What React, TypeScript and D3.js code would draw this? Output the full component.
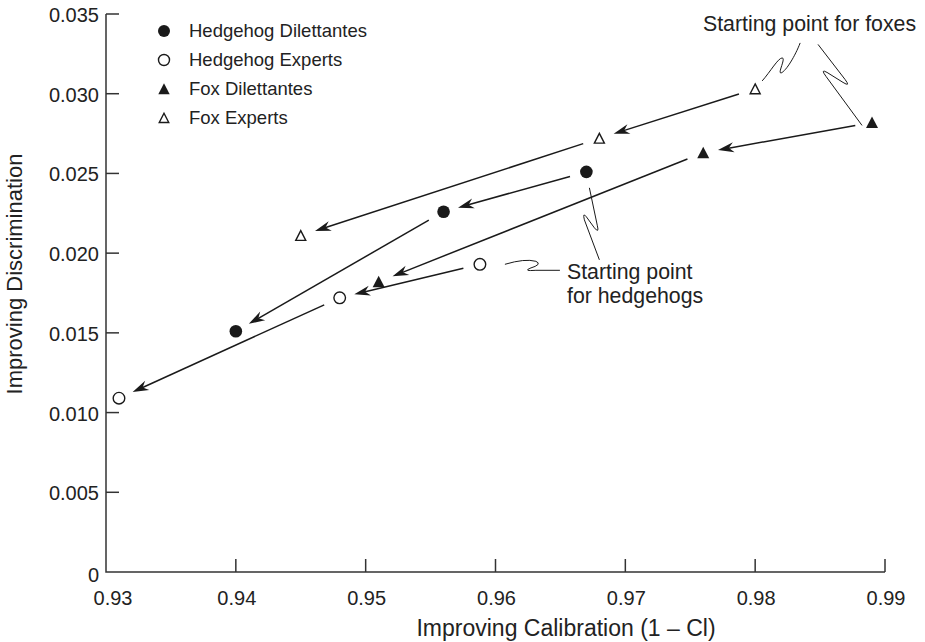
import React from 'react';
import * as d3 from 'd3';

type Pt = { x: number; y: number };

// each series runs from its starting point (first) to its last point
const hedgehogDilettantes: Pt[] = [
  { x: 0.967, y: 0.0251 },
  { x: 0.956, y: 0.0226 },
  { x: 0.94, y: 0.0151 },
];
const hedgehogExperts: Pt[] = [
  { x: 0.9588, y: 0.0193 },
  { x: 0.948, y: 0.0172 },
  { x: 0.931, y: 0.0109 },
];
const foxDilettantes: Pt[] = [
  { x: 0.989, y: 0.0282 },
  { x: 0.976, y: 0.0263 },
  { x: 0.951, y: 0.0182 },
];
const foxExperts: Pt[] = [
  { x: 0.98, y: 0.0303 },
  { x: 0.968, y: 0.0272 },
  { x: 0.945, y: 0.0211 },
];

const xTicks = [0.93, 0.94, 0.95, 0.96, 0.97, 0.98, 0.99];
const yTicks = [0, 0.005, 0.01, 0.015, 0.02, 0.025, 0.03, 0.035];
const legendLabels = ['Hedgehog Dilettantes', 'Hedgehog Experts', 'Fox Dilettantes', 'Fox Experts'];

const W = 925;
const H = 642;
const font = '"Liberation Sans", Arial, Helvetica, sans-serif';
const ink = '#1a1a1a';

type Kind = 'dot' | 'ring' | 'tri' | 'openTri';

const Marker = ({ kind, cx, cy, s = 1 }: { kind: Kind; cx: number; cy: number; s?: number }) => {
  if (kind === 'dot') return <circle cx={cx} cy={cy} r={6.3 * s} fill={ink} />;
  if (kind === 'ring')
    return <circle cx={cx} cy={cy} r={5.8 * s} fill="#fff" stroke={ink} strokeWidth={1.4} />;
  const h = 6 * s;
  const d = `M${cx},${cy - h}L${cx + h},${cy + h * 0.92}L${cx - h},${cy + h * 0.92}Z`;
  if (kind === 'tri') return <path d={d} fill={ink} />;
  const h2 = 5 * s;
  const d2 = `M${cx},${cy - h2}L${cx + h2},${cy + h2 * 0.95}L${cx - h2},${cy + h2 * 0.95}Z`;
  return <path d={d2} fill="#fff" stroke={ink} strokeWidth={1.4} strokeLinejoin="miter" />;
};

export default function App() {
  const x = d3.scaleLinear().domain([0.93, 0.99]).range([106, 885]);
  const y = d3.scaleLinear().domain([0, 0.035]).range([572, 14]);

  const series: { data: Pt[]; kind: Kind }[] = [
    { data: hedgehogDilettantes, kind: 'dot' },
    { data: hedgehogExperts, kind: 'ring' },
    { data: foxDilettantes, kind: 'tri' },
    { data: foxExperts, kind: 'openTri' },
  ];

  // arrows between consecutive points
  const arrows: { line: string; head: string }[] = [];
  series.forEach(({ data }) => {
    d3.pairs(data).forEach(([a, b]) => {
      const x0 = x(a.x), y0 = y(a.y), x1 = x(b.x), y1 = y(b.y);
      const len = Math.hypot(x1 - x0, y1 - y0);
      const ux = (x1 - x0) / len, uy = (y1 - y0) / len;
      const nx = -uy, ny = ux;
      const sx = x0 + ux * 17, sy = y0 + uy * 17;
      const tx = x1 - ux * 15, ty = y1 - uy * 15;
      const p = d3.path();
      p.moveTo(sx, sy);
      p.lineTo(tx - ux * 8, ty - uy * 8);
      const hd = d3.path();
      hd.moveTo(tx, ty);
      hd.lineTo(tx - ux * 16 + nx * 5, ty - uy * 16 + ny * 5);
      hd.lineTo(tx - ux * 11, ty - uy * 11);
      hd.lineTo(tx - ux * 16 - nx * 5, ty - uy * 16 - ny * 5);
      hd.closePath();
      arrows.push({ line: p.toString(), head: hd.toString() });
    });
  });

  // hand drawn leader squiggles, offsets relative to the point they point at
  const rel = (pt: Pt, cmds: (string | number[])[]) => {
    const px = x(pt.x), py = y(pt.y);
    return cmds
      .map((c) => (typeof c === 'string' ? c : `${px + c[0]},${py + c[1]}`))
      .join(' ');
  };
  const squiggles = [
    rel(foxExperts[0], ['M', [7, -8], 'C', [15, -17], [23, -31], [27, -31], 'C', [31, -31], [22, -15], [26, -16], 'C', [31, -18], [40, -33], [45, -46]]),
    rel(foxDilettantes[0], ['M', [-10, 3], 'L', [-46, -46], 'Q', [-52, -54], [-45, -50], 'L', [-29, -40], 'Q', [-21, -35], [-27, -43], 'L', [-54, -78]]),
    rel(hedgehogDilettantes[0], ['M', [3, 16], 'L', [11, 54], 'Q', [13, 62], [8, 56], 'L', [0, 45], 'Q', [-4, 40], [-2, 48], 'L', [13, 88]]),
    rel(hedgehogExperts[0], ['M', [25, 0], 'Q', [45, -6], [56, -3], 'Q', [63, 0], [50, 4], 'Q', [43, 7], [56, 6], 'L', [80, 6]]),
  ];

  return (
    <svg
      width={W}
      height={H}
      style={{ position: 'absolute', left: 0, top: 0, background: '#fff' }}
      fontFamily={font}
    >
      <rect width={W} height={H} fill="#fff" />

      {/* axes */}
      <g stroke="#333" strokeWidth={1.5} fill="none">
        <path d={`M${x(0.93)},${y(0.035)}V${y(0)}H${x(0.99)}`} />
        {yTicks.slice(1).map((t) => (
          <line key={t} x1={x(0.93)} x2={x(0.93) + 13} y1={y(t)} y2={y(t)} />
        ))}
        {xTicks.slice(1).map((t) => (
          <line key={t} x1={x(t)} x2={x(t)} y1={y(0)} y2={y(0) - 13} />
        ))}
      </g>
      <g fill="#222" fontSize={20}>
        {yTicks.map((t) => (
          <text key={t} x={x(0.93) - 7} y={y(t) + (t === 0 ? 10 : 8)} textAnchor="end">
            {t === 0 ? '0' : d3.format('.3f')(t)}
          </text>
        ))}
        {xTicks.map((t, i) => (
          <text key={t} x={x(t) + (i === 0 ? 7 : 1)} y={605} textAnchor="middle">
            {d3.format('.2f')(t)}
          </text>
        ))}
      </g>
      <text x={566} y={636} textAnchor="middle" fontSize={23} fill="#222">
        Improving Calibration (1 – Cl)
      </text>
      <text
        transform="translate(22,274) rotate(-90)"
        textAnchor="middle"
        fontSize={22}
        fill="#222"
      >
        Improving Discrimination
      </text>

      {/* legend */}
      {legendLabels.map((l, i) => (
        <g key={l}>
          <Marker kind={series[i].kind} cx={164} cy={31 + i * 29} s={0.95} />
          <text x={189} y={37 + i * 29} fontSize={18.5} fill="#222">
            {l}
          </text>
        </g>
      ))}

      {/* arrows */}
      {arrows.map((a, i) => (
        <g key={i}>
          <path d={a.line} stroke={ink} strokeWidth={1.5} fill="none" />
          <path d={a.head} fill={ink} />
        </g>
      ))}

      {/* points */}
      {series.map(({ data, kind }) =>
        data.map((d, i) => <Marker key={kind + i} kind={kind} cx={x(d.x)} cy={y(d.y)} />)
      )}

      {/* annotations */}
      {squiggles.map((d, i) => (
        <path key={i} d={d} stroke={ink} strokeWidth={1} fill="none" />
      ))}
      <g fontSize={21.3} fill="#222">
        <text x={703} y={31}>Starting point for foxes</text>
        <text x={567} y={279}>Starting point</text>
        <text x={567} y={303}>for hedgehogs</text>
      </g>
    </svg>
  );
}
